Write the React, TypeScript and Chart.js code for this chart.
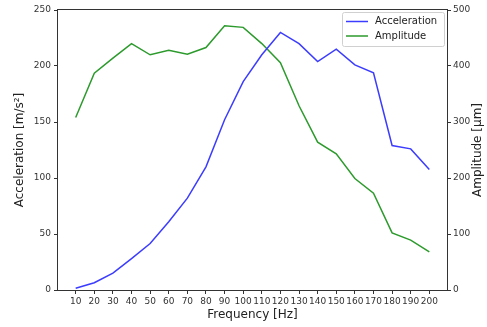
import React, { useEffect, useRef } from "react";
import { Chart, registerables } from "chart.js";

Chart.register(...registerables);

const frequencies = [10, 20, 30, 40, 50, 60, 70, 80, 90, 100, 110, 120, 130, 140, 150, 160, 170, 180, 190, 200];
const acceleration = [1.5, 6.5, 15, 28, 41.5, 61, 82, 110, 152, 186, 210, 230, 220, 204, 215, 201, 194, 129, 126, 107.5];
const amplitude = [308, 387, 414, 440, 420, 428, 421, 433, 472, 469, 440, 406, 329, 264, 243, 199, 173, 102, 89, 68];
const leftTicks = [0, 50, 100, 150, 200, 250];
const rightTicks = [0, 100, 200, 300, 400, 500];

const xTitle = "Frequency [Hz]";
const yTitle = "Acceleration [m/s²]";
const y1Title = "Amplitude [µm]";

const BLUE = "#3c3cff";
const GREEN = "#2c9a2c";
const FONT = "'DejaVu Sans', sans-serif";
const AXIS = "#333333";

const overlay = {
  id: "overlay",
  afterDraw(chart: any) {
    const { ctx, chartArea } = chart;
    const a = chartArea;
    ctx.save();
    // frame
    ctx.strokeStyle = AXIS;
    ctx.lineWidth = 1;
    ctx.strokeRect(Math.round(a.left) - 0.5, Math.round(a.top) - 0.5, Math.round(a.right) - Math.round(a.left) + 1, Math.round(a.bottom) - Math.round(a.top) + 1);

    // titles
    ctx.fillStyle = "#222222";
    ctx.font = `12px ${FONT}`;
    ctx.textAlign = "center";
    ctx.textBaseline = "middle";
    const cy = (a.top + a.bottom) / 2;
    ctx.fillText(xTitle, (a.left + a.right) / 2, 315);
    ctx.save();
    ctx.translate(20, cy);
    ctx.rotate(-Math.PI / 2);
    ctx.fillText(yTitle, 0, 0);
    ctx.restore();
    ctx.save();
    ctx.translate(478, cy);
    ctx.rotate(-Math.PI / 2);
    ctx.fillText(y1Title, 0, 0);
    ctx.restore();

    // legend
    const lx = 342, ly = 12, lw = 102, lh = 34;
    ctx.fillStyle = "rgba(255,255,255,0.85)";
    ctx.strokeStyle = "#d0d0d0";
    ctx.lineWidth = 1;
    ctx.beginPath();
    (ctx as any).roundRect ? (ctx as any).roundRect(lx + 0.5, ly + 0.5, lw, lh, 2) : ctx.rect(lx + 0.5, ly + 0.5, lw, lh);
    ctx.fill();
    ctx.stroke();
    ctx.font = `10px ${FONT}`;
    ctx.textAlign = "left";
    ctx.textBaseline = "middle";
    chart.data.datasets.forEach((ds: any, i: number) => {
      const y = ly + 9.5 + i * 14.5;
      ctx.strokeStyle = ds.borderColor;
      ctx.lineWidth = 1.5;
      ctx.beginPath();
      ctx.moveTo(346, y);
      ctx.lineTo(368, y);
      ctx.stroke();
      ctx.fillStyle = "#222222";
      ctx.fillText(ds.label, 375, y);
    });
    ctx.restore();
  },
};

export default function App() {
  const ref = useRef<HTMLCanvasElement>(null);
  useEffect(() => {
    document.body.style.margin = "0";
    const tickFont = { family: FONT, size: 9 };
    const chart = new Chart(ref.current!, {
      type: "line",
      data: {
        datasets: [
          {
            label: "Acceleration",
            data: frequencies.map((f, i) => ({ x: f, y: acceleration[i] })),
            borderColor: BLUE,
            backgroundColor: BLUE,
            borderWidth: 1.5,
            pointRadius: 0,
            tension: 0,
            yAxisID: "y",
          },
          {
            label: "Amplitude",
            data: frequencies.map((f, i) => ({ x: f, y: amplitude[i] })),
            borderColor: GREEN,
            backgroundColor: GREEN,
            borderWidth: 1.5,
            pointRadius: 0,
            tension: 0,
            yAxisID: "y1",
          },
        ],
      },
      options: {
        responsive: false,
        animation: false,
        layout: { padding: { top: 10, left: 0, right: 0, bottom: 0 } },
        plugins: { legend: { display: false }, tooltip: { enabled: false } },
        scales: {
          x: {
            type: "linear",
            position: "bottom",
            min: 0.5,
            max: 209.5,
            afterBuildTicks: (s: any) => {
              s.ticks = frequencies.map((v) => ({ value: v }));
            },
            afterFit: (s: any) => {
              s.height = 37;
            },
            ticks: { font: tickFont, color: AXIS, maxRotation: 0, autoSkip: false, padding: 2, callback: (v: any) => String(v) },
            grid: { drawOnChartArea: false, drawTicks: true, tickLength: 4, color: AXIS },
            border: { display: false },
          },
          y: {
            type: "linear",
            position: "left",
            min: 0,
            max: 250,
            afterBuildTicks: (s: any) => {
              s.ticks = leftTicks.map((v) => ({ value: v }));
            },
            afterFit: (s: any) => {
              s.width = 58;
            },
            ticks: { font: tickFont, color: AXIS, padding: 3 },
            grid: { drawOnChartArea: false, drawTicks: true, tickLength: 4, color: AXIS },
            border: { display: false },
          },
          y1: {
            type: "linear",
            position: "right",
            min: 0,
            max: 500,
            afterBuildTicks: (s: any) => {
              s.ticks = rightTicks.map((v) => ({ value: v }));
            },
            afterFit: (s: any) => {
              s.width = 40;
            },
            ticks: { font: tickFont, color: AXIS, padding: 2 },
            grid: { drawOnChartArea: false, drawTicks: true, tickLength: 4, color: AXIS },
            border: { display: false },
          },
        },
      },
      plugins: [overlay],
    });
    return () => chart.destroy();
  }, []);
  return <canvas ref={ref} width={487} height={327} style={{ display: "block" }} />;
}
